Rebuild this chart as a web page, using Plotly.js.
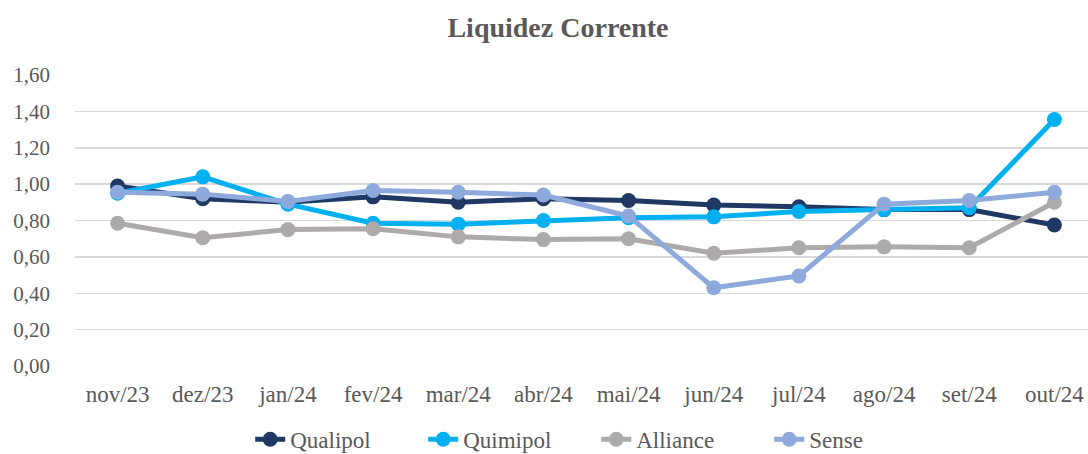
<!DOCTYPE html>
<html>
<head>
<meta charset="utf-8">
<script src="https://cdn.plot.ly/plotly-3.0.1.min.js"></script>
<style>
html,body{margin:0;padding:0;overflow:hidden;background:#fff;}
#chart{width:1116px;height:484px;}
</style>
</head>
<body>
<div id="chart"></div>
<script>
const categories = ["nov/23","dez/23","jan/24","fev/24","mar/24","abr/24","mai/24","jun/24","jul/24","ago/24","set/24","out/24"];
const qualipol = [0.99, 0.92, 0.90, 0.93, 0.90, 0.92, 0.91, 0.885, 0.875, 0.86, 0.86, 0.775];
const quimipol = [0.95, 1.04, 0.89, 0.785, 0.78, 0.80, 0.815, 0.82, 0.85, 0.86, 0.87, 1.355];
const alliance = [0.785, 0.705, 0.75, 0.755, 0.71, 0.695, 0.70, 0.62, 0.65, 0.655, 0.65, 0.90];
const sense = [0.955, 0.945, 0.905, 0.965, 0.955, 0.94, 0.825, 0.43, 0.495, 0.89, 0.91, 0.955];
const yTicks = [0, 0.2, 0.4, 0.6, 0.8, 1.0, 1.2, 1.4, 1.6];
const yTickText = ["0,00","0,20","0,40","0,60","0,80","1,00","1,20","1,40","1,60"];

const series = [
  {name: "Qualipol", y: qualipol, color: "#1F3864"},
  {name: "Quimipol", y: quimipol, color: "#00B0F0"},
  {name: "Alliance", y: alliance, color: "#AEAAAA"},
  {name: "Sense", y: sense, color: "#8EA9DB"}
];

const traces = series.map(s => ({
  type: "scatter",
  mode: "lines+markers",
  name: s.name,
  x: categories,
  y: s.y,
  line: {color: s.color, width: 5},
  marker: {color: s.color, size: 15}
}));

const font = "Liberation Serif, Times New Roman, serif";
const layout = {
  width: 1116,
  height: 484,
  margin: {l: 75, r: 19, t: 75, b: 118},
  paper_bgcolor: "#fff",
  plot_bgcolor: "#fff",
  font: {family: font, color: "#595959", size: 21},
  title: {text: "<b>Liquidez Corrente</b>", x: 0.5, xanchor: "center", y: 0.944, yref: "container", yanchor: "middle",
          font: {family: font, size: 28, color: "#595959"}},
  xaxis: {type: "category", showgrid: false, zeroline: false, showline: false, automargin: false,
          ticks: "", tickfont: {size: 23, color: "#595959"}, range: [-0.5, 11.5], ticklabelstandoff: 12},
  yaxis: {range: [0, 1.6], tickvals: yTicks, ticktext: yTickText, showgrid: true, automargin: false,
          gridcolor: "#D9D9D9", gridwidth: 1.5, zeroline: false, showline: false,
          ticks: "", tickfont: {size: 21, color: "#595959"}, ticklabelstandoff: 24},
  showlegend: true,
  legend: {orientation: "h", x: 0.51, xanchor: "center", y: -0.252, yanchor: "middle",
           font: {size: 23, color: "#595959"}, entrywidth: 128, entrywidthmode: "pixels", traceorder: "normal"}
};

Plotly.newPlot("chart", traces, layout, {displayModeBar: false, staticPlot: true});
</script>
</body>
</html>
